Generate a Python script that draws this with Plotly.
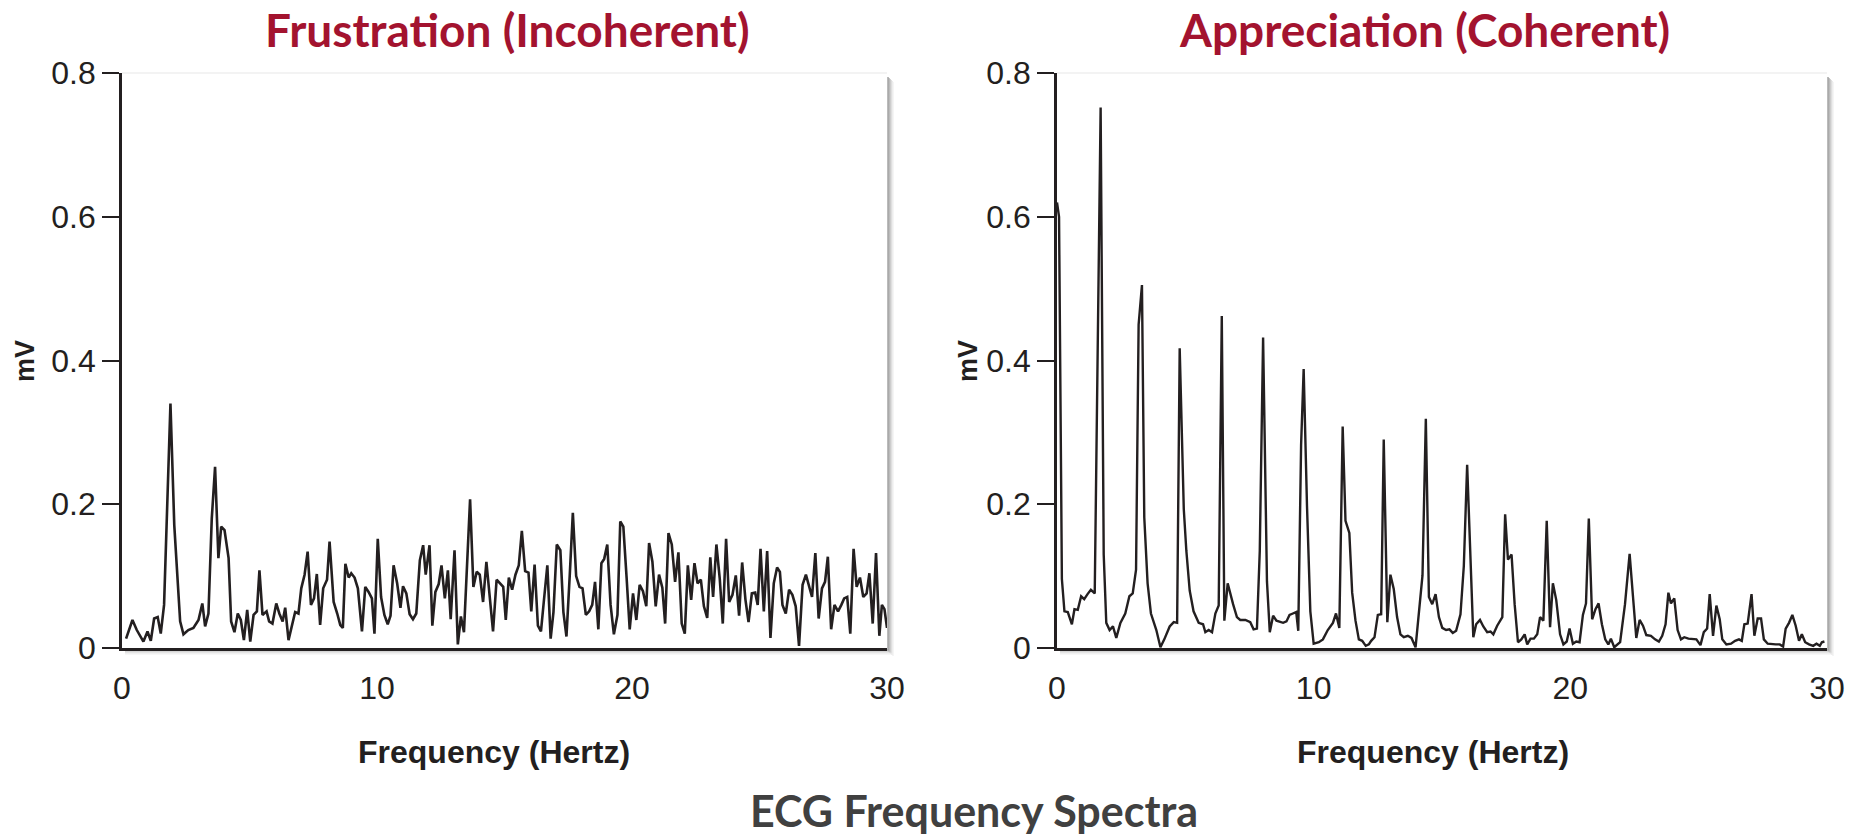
import plotly.graph_objects as go

# ---------------- data ----------------
freq_frus = [0.16, 0.41, 0.58, 0.84, 1.0, 1.13, 1.26, 1.4, 1.52, 1.65,
             1.9, 2.05, 2.28, 2.41, 2.6, 2.8, 3.0, 3.15, 3.26, 3.39,
             3.52, 3.65, 3.78, 3.89, 4.02, 4.18, 4.28, 4.41, 4.54, 4.66,
             4.78, 4.91, 5.03, 5.16, 5.29, 5.39, 5.51, 5.67, 5.77, 5.9,
             6.05, 6.17, 6.3, 6.4, 6.53, 6.66, 6.79, 6.92, 7.03, 7.16,
             7.28, 7.41, 7.53, 7.64, 7.77, 7.89, 8.04, 8.14, 8.3, 8.44,
             8.56, 8.66, 8.76, 8.89, 8.99, 9.12, 9.25, 9.41, 9.54, 9.67,
             9.8, 9.9,
             10.03, 10.16, 10.29, 10.42, 10.53, 10.65, 10.79, 10.92, 11.02, 11.15,
             11.28, 11.41, 11.54, 11.68, 11.81, 11.91, 12.06, 12.17, 12.29, 12.42,
             12.53, 12.66, 12.78, 12.89, 13.04, 13.17, 13.29, 13.41, 13.53, 13.65,
             13.78, 13.91, 14.03, 14.16, 14.29, 14.42, 14.55, 14.69, 14.82, 14.95,
             15.05, 15.17, 15.3, 15.43, 15.56, 15.68, 15.81, 15.94, 16.05, 16.18,
             16.31, 16.43, 16.54, 16.68, 16.81, 16.92, 17.05, 17.19, 17.31, 17.43,
             17.56, 17.68, 17.81, 17.94, 18.06, 18.19, 18.32, 18.44, 18.55, 18.68,
             18.8, 18.91, 19.03, 19.16, 19.29, 19.43, 19.54, 19.66, 19.79,
             19.91, 20.04, 20.17, 20.3, 20.43, 20.56, 20.67, 20.8, 20.93, 21.06,
             21.19, 21.3, 21.43, 21.56, 21.69, 21.82, 21.95, 22.07, 22.19, 22.32,
             22.45, 22.57, 22.7, 22.82, 22.95, 23.07, 23.18, 23.31, 23.44, 23.56,
             23.69, 23.81, 23.94, 24.07, 24.2, 24.32, 24.45, 24.57, 24.7, 24.83,
             24.93, 25.04, 25.17, 25.3, 25.43, 25.56, 25.69, 25.8, 25.9, 26.03,
             26.16, 26.29, 26.42, 26.55, 26.69, 26.82, 26.95, 27.06, 27.19, 27.32,
             27.45, 27.57, 27.68, 27.81, 27.94, 28.08, 28.21, 28.32, 28.44, 28.56,
             28.69, 28.81, 28.94, 29.07, 29.2, 29.31, 29.44, 29.57, 29.7, 29.8,
             29.9, 30.0]
mv_frus = [0.013, 0.039, 0.025, 0.009, 0.023, 0.01, 0.041, 0.043, 0.02, 0.06,
           0.34, 0.171, 0.037, 0.019, 0.025, 0.028, 0.039, 0.062, 0.03, 0.048,
           0.18, 0.252, 0.125, 0.169, 0.164, 0.125, 0.037, 0.022, 0.048, 0.039,
           0.011, 0.053, 0.009, 0.046, 0.051, 0.108, 0.046, 0.051, 0.037, 0.034,
           0.062, 0.048, 0.037, 0.056, 0.011, 0.03, 0.05, 0.048, 0.083, 0.102,
           0.134, 0.06, 0.069, 0.103, 0.032, 0.083, 0.095, 0.148, 0.064, 0.048,
           0.032, 0.028, 0.117, 0.098, 0.104, 0.098, 0.083, 0.023, 0.085, 0.078,
           0.069, 0.02,
           0.152, 0.071, 0.046, 0.033, 0.045, 0.115, 0.09, 0.056, 0.086, 0.076,
           0.047, 0.04, 0.048, 0.122, 0.143, 0.102, 0.143, 0.031, 0.078, 0.089,
           0.115, 0.069, 0.108, 0.04, 0.136, 0.005, 0.044, 0.022, 0.106, 0.207,
           0.085, 0.106, 0.102, 0.064, 0.12, 0.069, 0.023, 0.095, 0.09, 0.085,
           0.039, 0.098, 0.081, 0.102, 0.115, 0.163, 0.107, 0.105, 0.051, 0.116,
           0.031, 0.023, 0.064, 0.115, 0.013, 0.05, 0.144, 0.136, 0.05, 0.016,
           0.102, 0.188, 0.1, 0.085, 0.083, 0.046, 0.051, 0.06, 0.092, 0.026,
           0.118, 0.124, 0.144, 0.06, 0.019, 0.046, 0.176, 0.169, 0.097,
           0.026, 0.076, 0.039, 0.088, 0.079, 0.058, 0.146, 0.12, 0.058, 0.102,
           0.084, 0.034, 0.16, 0.144, 0.092, 0.133, 0.034, 0.02, 0.115, 0.067,
           0.118, 0.09, 0.095, 0.058, 0.042, 0.126, 0.071, 0.144, 0.097, 0.034,
           0.152, 0.064, 0.074, 0.101, 0.045, 0.119, 0.067, 0.036, 0.076, 0.077,
           0.06, 0.138, 0.051, 0.135, 0.014, 0.09, 0.112, 0.106, 0.06, 0.048,
           0.081, 0.074, 0.058, 0.003, 0.088, 0.102, 0.085, 0.071, 0.132, 0.041,
           0.083, 0.092, 0.127, 0.026, 0.06, 0.051, 0.06, 0.069, 0.071, 0.02,
           0.138, 0.085, 0.098, 0.071, 0.076, 0.104, 0.034, 0.132, 0.017, 0.06,
           0.054, 0.028]

freq_appr = [0.0, 0.08, 0.19, 0.29, 0.42, 0.58, 0.68, 0.81, 0.94, 1.06,
             1.19, 1.32, 1.47, 1.70, 1.82, 1.92, 2.05, 2.18, 2.31, 2.47,
             2.66, 2.82, 2.95, 3.08, 3.18, 3.31, 3.40, 3.53, 3.66, 3.87,
             4.03, 4.18, 4.39, 4.55, 4.68, 4.78, 4.94, 5.04, 5.17, 5.32,
             5.52, 5.69, 5.78, 5.91, 6.04, 6.17, 6.30, 6.42, 6.52, 6.65,
             6.86, 7.01, 7.14, 7.34, 7.53, 7.66, 7.79, 7.90, 8.03, 8.18,
             8.29, 8.42, 8.55, 8.68, 8.81, 8.94, 9.06, 9.19, 9.32, 9.40,
             9.51, 9.61,
             9.74, 9.87, 10.0, 10.2, 10.36, 10.55, 10.75, 10.87, 11.0, 11.13,
             11.24, 11.39, 11.5, 11.63, 11.76, 11.89, 12.03, 12.15, 12.24, 12.37,
             12.5, 12.63, 12.73, 12.87, 12.99, 13.12, 13.25, 13.38, 13.51, 13.67,
             13.81, 13.97, 14.1, 14.24, 14.37, 14.49, 14.62, 14.75, 14.88, 15.01,
             15.16, 15.29, 15.42, 15.55, 15.72, 15.85, 15.98, 16.11, 16.22, 16.33,
             16.48, 16.61, 16.76, 16.89, 17.0, 17.15, 17.35, 17.46, 17.57, 17.71,
             17.83, 17.96, 18.09, 18.22, 18.32, 18.45, 18.58, 18.71, 18.82, 18.95,
             19.08, 19.21, 19.32, 19.45,
             19.6, 19.73, 19.86, 19.97, 20.1, 20.23, 20.36, 20.49, 20.61, 20.72,
             20.85, 20.98, 21.1, 21.23, 21.36, 21.48, 21.58, 21.71, 21.84, 21.94,
             22.13, 22.31, 22.44, 22.57, 22.7, 22.83, 22.96, 23.14, 23.3, 23.45,
             23.58, 23.71, 23.82, 23.92, 24.05, 24.18, 24.31, 24.44, 24.6, 24.75,
             24.91, 25.07, 25.2, 25.33, 25.43, 25.56, 25.69, 25.82, 25.92, 26.08,
             26.26, 26.42, 26.57, 26.68, 26.78, 26.91, 27.06, 27.17, 27.3, 27.43,
             27.54, 27.69, 27.85, 28.0, 28.16, 28.29, 28.39, 28.52, 28.65, 28.78,
             28.91, 29.02, 29.15, 29.3, 29.46, 29.59, 29.72, 29.8, 29.9]
mv_appr = [0.62, 0.6, 0.096, 0.051, 0.05, 0.033, 0.054, 0.053, 0.072, 0.068,
           0.075, 0.081, 0.076, 0.752, 0.13, 0.035, 0.025, 0.03, 0.014, 0.035,
           0.048, 0.072, 0.076, 0.109, 0.45, 0.505, 0.182, 0.09, 0.048, 0.025,
           0.001, 0.012, 0.03, 0.036, 0.035, 0.417, 0.193, 0.135, 0.08, 0.051,
           0.035, 0.033, 0.022, 0.025, 0.022, 0.048, 0.059, 0.462, 0.038, 0.09,
           0.061, 0.043, 0.039, 0.039, 0.036, 0.026, 0.027, 0.135, 0.432, 0.093,
           0.022, 0.045, 0.038, 0.037, 0.035, 0.037, 0.046, 0.048, 0.05, 0.024,
           0.282, 0.388,
           0.198, 0.051, 0.006, 0.008, 0.012, 0.025, 0.035, 0.048, 0.028, 0.308,
           0.177, 0.16, 0.077, 0.038, 0.012, 0.01, 0.003, 0.005, 0.01, 0.015,
           0.046, 0.047, 0.29, 0.036, 0.102, 0.082, 0.043, 0.019, 0.015, 0.017,
           0.014, 0.001, 0.051, 0.101, 0.319, 0.071, 0.061, 0.075, 0.043, 0.028,
           0.025, 0.026, 0.021, 0.024, 0.047, 0.114, 0.255, 0.119, 0.015, 0.033,
           0.039, 0.03, 0.022, 0.023, 0.019, 0.031, 0.043, 0.186, 0.123, 0.13,
           0.061, 0.008, 0.012, 0.019, 0.005, 0.013, 0.013, 0.019, 0.043, 0.038,
           0.177, 0.029, 0.09, 0.067,
           0.019, 0.005, 0.009, 0.027, 0.006, 0.009, 0.008, 0.046, 0.062, 0.18,
           0.04, 0.054, 0.062, 0.033, 0.012, 0.005, 0.013, 0.001, 0.005, 0.008,
           0.061, 0.131, 0.072, 0.014, 0.039, 0.031, 0.018, 0.017, 0.012, 0.009,
           0.017, 0.033, 0.077, 0.062, 0.069, 0.025, 0.012, 0.015, 0.013, 0.013,
           0.012, 0.004, 0.022, 0.027, 0.075, 0.017, 0.059, 0.04, 0.012, 0.005,
           0.006, 0.01, 0.012, 0.01, 0.033, 0.034, 0.075, 0.017, 0.041, 0.041,
           0.012, 0.006, 0.005, 0.005, 0.005, 0.002, 0.027, 0.035, 0.046, 0.031,
           0.01, 0.019, 0.008, 0.005, 0.003, 0.006, 0.003, 0.008, 0.009]

assert len(freq_frus) == len(mv_frus), (len(freq_frus), len(mv_frus))
assert len(freq_appr) == len(mv_appr), (len(freq_appr), len(mv_appr))

x_ticks = [0, 10, 20, 30]
y_ticks = [0, 0.2, 0.4, 0.6, 0.8]
y_tick_text = ["0", "0.2", "0.4", "0.6", "0.8"]
panel_titles = ["Frustration (Incoherent)", "Appreciation (Coherent)"]
x_title = "Frequency (Hertz)"
y_title = "mV"
main_title = "ECG Frequency Spectra"

# ---------------- layout helpers ----------------
W, H = 1858, 838
def px(x):
    return x / W
def py(y):
    return 1 - y / H

INK = "#231f20"
RED = "#a3132f"
TICK_FONT = dict(family="Liberation Sans, Arial, sans-serif", size=32, color=INK)

panels = [
    dict(x0=122, x1=887, tx=507),
    dict(x0=1057, x1=1827, tx=1424),
]
PLOT_TOP, PLOT_BOT = 73, 648

fig = go.Figure()
fig.add_trace(go.Scatter(x=freq_frus, y=mv_frus, mode="lines",
                         line=dict(color=INK, width=2.6), xaxis="x", yaxis="y",
                         hoverinfo="x+y", showlegend=False))
fig.add_trace(go.Scatter(x=freq_appr, y=mv_appr, mode="lines",
                         line=dict(color=INK, width=2.4), xaxis="x2", yaxis="y2",
                         hoverinfo="x+y", showlegend=False))

def xaxis_cfg(p, anchor):
    return dict(domain=[px(p["x0"]), px(p["x1"])], range=[0, 30], anchor=anchor,
                tickvals=x_ticks, ticks="", showgrid=False, zeroline=False,
                showline=True, linecolor=INK, linewidth=2.8, automargin=False,
                tickfont=TICK_FONT, ticklabelstandoff=10, fixedrange=True)

def yaxis_cfg(anchor):
    return dict(domain=[py(PLOT_BOT), py(PLOT_TOP)], range=[0, 0.8], anchor=anchor,
                tickvals=y_ticks, ticktext=y_tick_text, ticks="outside",
                ticklen=17, tickwidth=1.5, tickcolor=INK, showgrid=False,
                zeroline=False, showline=True, linecolor=INK, linewidth=2.8,
                automargin=False, tickfont=TICK_FONT, fixedrange=True)

shapes = []
for p in panels:
    # faint top edge
    shapes.append(dict(type="line", xref="paper", yref="paper",
                       x0=px(p["x0"]), x1=px(p["x1"]), y0=py(PLOT_TOP), y1=py(PLOT_TOP),
                       line=dict(color="#efefef", width=1.5), layer="below"))
    # right border + drop shadow
    shade = ["#8e8e8e", "#9e9e9e", "#b4b4b4", "#cacaca", "#dedede", "#eeeeee"]
    for i, c in enumerate(shade):
        shapes.append(dict(type="line", xref="paper", yref="paper",
                           x0=px(p["x1"] + 1 + i), x1=px(p["x1"] + 1 + i),
                           y0=py(PLOT_BOT + 3 + i), y1=py(PLOT_TOP + 4 + i),
                           line=dict(color=c, width=1.2), layer="below"))
    # bottom shadow under x axis
    bshade = ["#a0a0a0", "#b8b8b8", "#cfcfcf", "#e2e2e2", "#f0f0f0"]
    for i, c in enumerate(bshade):
        shapes.append(dict(type="line", xref="paper", yref="paper",
                           x0=px(p["x0"] + 3), x1=px(p["x1"] + 2 + i),
                           y0=py(PLOT_BOT + 2 + i), y1=py(PLOT_BOT + 2 + i),
                           line=dict(color=c, width=1.2), layer="below"))

annotations = []
for p, t in zip(panels, panel_titles):
    annotations.append(dict(text="<b>" + t + "</b>", x=px(p["tx"]), y=py(30),
                            xref="paper", yref="paper", showarrow=False,
                            xanchor="center", yanchor="middle",
                            font=dict(family="Lato, sans-serif", size=46, color=RED)))
for cx in [494, 1433]:
    annotations.append(dict(text="<b>" + x_title + "</b>", x=px(cx), y=py(752),
                            xref="paper", yref="paper", showarrow=False,
                            xanchor="center", yanchor="middle",
                            font=dict(family="Liberation Sans, Arial, sans-serif", size=32, color=INK)))
for cx in [25, 968]:
    annotations.append(dict(text="<b>" + y_title + "</b>", x=px(cx), y=py(361),
                            xref="paper", yref="paper", showarrow=False, textangle=-90,
                            xanchor="center", yanchor="middle",
                            font=dict(family="Liberation Sans, Arial, sans-serif", size=27, color=INK)))
annotations.append(dict(text="<b>" + main_title + "</b>", x=px(974), y=py(810),
                        xref="paper", yref="paper", showarrow=False,
                        xanchor="center", yanchor="middle", borderpad=0,
                        font=dict(family="Lato, sans-serif", size=43, color="#404040")))

fig.update_layout(
    width=W, height=H,
    margin=dict(l=0, r=0, t=0, b=0, autoexpand=False),
    paper_bgcolor="white", plot_bgcolor="white",
    xaxis=xaxis_cfg(panels[0], "y"),
    yaxis=yaxis_cfg("x"),
    xaxis2=xaxis_cfg(panels[1], "y2"),
    yaxis2=yaxis_cfg("x2"),
    shapes=shapes,
    annotations=annotations,
    showlegend=False,
)

fig.write_html("out.html", config={"displayModeBar": False},
               post_script="document.body.style.margin='0';document.body.style.overflow='hidden';")
